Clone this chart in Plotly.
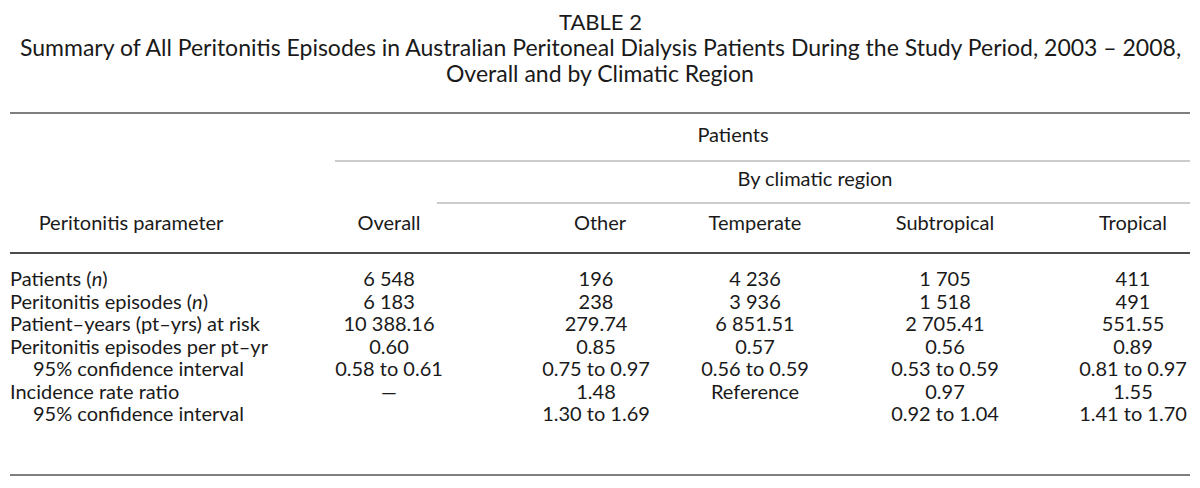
import plotly.graph_objects as go

# table content
title_lines = [
    "TABLE 2",
    "Summary of All Peritonitis Episodes in Australian Peritoneal Dialysis Patients During the Study Period, 2003 – 2008,",
    "Overall and by Climatic Region",
]
row_labels = [
    "Patients (<i>n</i>)",
    "Peritonitis episodes (<i>n</i>)",
    "Patient–years (pt–yrs) at risk",
    "Peritonitis episodes per pt–yr",
    "95% confidence interval",
    "Incidence rate ratio",
    "95% confidence interval",
]
indented = [False, False, False, False, True, False, True]
col_headers = ["Overall", "Other", "Temperate", "Subtropical", "Tropical"]
overall = ["6 548", "6 183", "10 388.16", "0.60", "0.58 to 0.61", "—", ""]
other = ["196", "238", "279.74", "0.85", "0.75 to 0.97", "1.48", "1.30 to 1.69"]
temperate = ["4 236", "3 936", "6 851.51", "0.57", "0.56 to 0.59", "Reference", ""]
subtropical = ["1 705", "1 518", "2 705.41", "0.56", "0.53 to 0.59", "0.97", "0.92 to 1.04"]
tropical = ["411", "491", "551.55", "0.89", "0.81 to 0.97", "1.55", "1.41 to 1.70"]

W, H = 1200, 488
OFF = 8  # page body margin, so axis units line up with screen pixels
FONT = "Lato"
TXT = "#1a1a1a"
SIZE = 20

col_x = [389, 596, 755, 945, 1133]
row_y0, row_dy = 281, 22.5
row_y = [row_y0 + i * row_dy for i in range(len(row_labels))]

fig = go.Figure()

# row labels
fig.add_trace(go.Scatter(
    x=[33 if ind else 10 for ind in indented],
    y=row_y,
    text=row_labels,
    mode="text",
    textposition="middle right",
    textfont=dict(family=FONT, size=SIZE, color=TXT),
    hoverinfo="skip",
    showlegend=False,
))

for cx, vals in zip(col_x, [overall, other, temperate, subtropical, tropical]):
    fig.add_trace(go.Scatter(
        x=[cx] * len(vals),
        y=row_y,
        text=vals,
        mode="text",
        textposition="middle center",
        textfont=dict(family=FONT, size=SIZE, color=TXT),
        hoverinfo="skip",
        showlegend=False,
    ))

# header texts
fig.add_trace(go.Scatter(
    x=[131, 389, 600, 755, 945, 1133, 733, 815],
    y=[225] * 6 + [137, 181],
    text=["Peritonitis parameter"] + col_headers + ["Patients", "By climatic region"],
    mode="text",
    textposition="middle center",
    textfont=dict(family=FONT, size=SIZE, color=TXT),
    hoverinfo="skip",
    showlegend=False,
))

# title
for i, t in enumerate(title_lines):
    fig.add_annotation(
        x=600, y=[21, 47, 73][i], text=t, showarrow=False,
        xanchor="center", yanchor="middle", borderpad=0,
        font=dict(family=FONT, size=22 if i == 0 else 23, color=TXT),
    )

# rules
rules = [
    (10, 1190, 113, "#555555", 1.5),
    (335, 1190, 161, "#999999", 1.2),
    (437, 1190, 203, "#999999", 1.2),
    (10, 1190, 253, "#111111", 1.5),
    (10, 1190, 475, "#555555", 1.5),
]
for x0, x1, y, c, w in rules:
    fig.add_shape(type="line", x0=x0, x1=x1, y0=y, y1=y,
                  line=dict(color=c, width=w))

fig.update_layout(
    width=W, height=H,
    margin=dict(l=0, r=0, t=0, b=0),
    paper_bgcolor="#FFFFFF",
    plot_bgcolor="#FFFFFF",
    xaxis=dict(range=[OFF, W + OFF], visible=False, fixedrange=True),
    yaxis=dict(range=[H + OFF, OFF], visible=False, fixedrange=True),
)

fig.write_html("out.html")
